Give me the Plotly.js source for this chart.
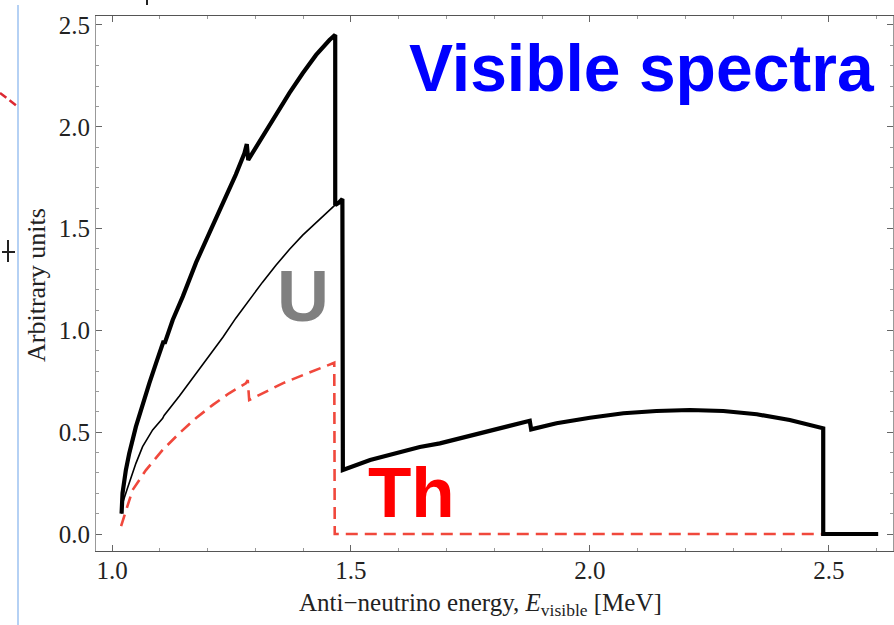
<!DOCTYPE html>
<html>
<head>
<meta charset="utf-8">
<script src="https://cdn.plot.ly/plotly-3.0.1.min.js"></script>
<style>html,body{margin:0;padding:0;background:#fff;}#chart{width:894px;height:625px;}</style>
</head>
<body>
<div id="chart"></div>
<script>
// Total visible spectrum (U + Th), thick black
const totalX = [1.020, 1.022, 1.029, 1.036, 1.050, 1.064, 1.078, 1.092, 1.106, 1.108, 1.110, 1.127, 1.148, 1.169, 1.176, 1.204, 1.232, 1.259, 1.277, 1.282, 1.285, 1.315, 1.343, 1.371, 1.399, 1.427, 1.455, 1.467, 1.467, 1.475, 1.482, 1.483, 1.540, 1.644, 1.686, 1.756, 1.826, 1.874, 1.877, 1.930, 2.000, 2.070, 2.139, 2.209, 2.279, 2.349, 2.418, 2.488, 2.488, 2.603];
const totalY = [0.10, 0.20, 0.314, 0.396, 0.527, 0.642, 0.740, 0.838, 0.928, 0.948, 0.935, 1.051, 1.166, 1.297, 1.334, 1.480, 1.624, 1.765, 1.870, 1.915, 1.837, 1.951, 2.066, 2.165, 2.263, 2.353, 2.426, 2.451, 1.616, 1.628, 1.645, 0.314, 0.363, 0.427, 0.445, 0.486, 0.527, 0.556, 0.514, 0.544, 0.571, 0.593, 0.604, 0.609, 0.604, 0.588, 0.560, 0.519, 0.0, 0.0];

// U component, thin black
const uX = [1.020, 1.022, 1.033, 1.050, 1.064, 1.085, 1.106, 1.109, 1.141, 1.169, 1.197, 1.232, 1.259, 1.287, 1.315, 1.343, 1.371, 1.399, 1.427, 1.455, 1.467];
const uY = [0.10, 0.151, 0.23, 0.347, 0.429, 0.511, 0.568, 0.582, 0.678, 0.768, 0.858, 0.966, 1.060, 1.150, 1.237, 1.320, 1.397, 1.468, 1.530, 1.588, 1.616];

// Th component, red dashed
const thX = [1.019, 1.029, 1.043, 1.071, 1.106, 1.141, 1.176, 1.211, 1.245, 1.280, 1.284, 1.287, 1.322, 1.357, 1.413, 1.465, 1.466, 2.488];
const thY = [0.039, 0.118, 0.216, 0.314, 0.413, 0.495, 0.570, 0.634, 0.691, 0.740, 0.756, 0.658, 0.699, 0.740, 0.793, 0.841, 0.0, 0.0];

const xTickVals = [1.0, 1.5, 2.0, 2.5];
const xTickText = ['1.0', '1.5', '2.0', '2.5'];
const yTickVals = [0.0, 0.5, 1.0, 1.5, 2.0, 2.5];
const yTickText = ['0.0', '0.5', '1.0', '1.5', '2.0', '2.5'];

const xTitle = 'Anti\u2212neutrino energy, <i>E</i><sub>visible</sub> [MeV]';
const yTitle = 'Arbitrary units';

const serif = 'Liberation Serif, Times New Roman, serif';
const sans = 'Liberation Sans, Arial, sans-serif';

const traces = [
  {x: thX, y: thY, type: 'scatter', mode: 'lines', line: {color: 'rgb(240,72,60)', width: 2.6, dash: '12px,7px'}, hoverinfo: 'skip'},
  {x: uX, y: uY, type: 'scatter', mode: 'lines', line: {color: '#000', width: 1.6}, hoverinfo: 'skip'},
  {x: totalX, y: totalY, type: 'scatter', mode: 'lines', line: {color: '#000', width: 4.2}, hoverinfo: 'skip'}
];

const W = 894, H = 625, L = 96, R = 893, T = 16, B = 551;
function px(x){ return (x - L) / (R - L); }
function py(y){ return (B - y) / (B - T); }

const layout = {
  width: W, height: H,
  margin: {l: L, r: W - R, t: T, b: H - B},
  paper_bgcolor: '#fff', plot_bgcolor: '#fff',
  showlegend: false,
  xaxis: {
    range: [0.9665, 2.634],
    tickmode: 'array', tickvals: xTickVals, ticktext: xTickText,
    ticks: 'inside', ticklen: 6, tickwidth: 1, tickcolor: '#666',
    minor: {tickmode: 'linear', tick0: 1.0, dtick: 0.1, ticks: 'inside', ticklen: 3, tickcolor: '#999'},
    showline: true, linecolor: '#555', linewidth: 1, mirror: 'allticks',
    showgrid: false, zeroline: false,
    ticklabelstandoff: -3,
    tickfont: {family: serif, size: 25, color: '#222'}
  },
  yaxis: {
    range: [-0.0835, 2.544],
    tickmode: 'array', tickvals: yTickVals, ticktext: yTickText,
    ticks: 'inside', ticklen: 6, tickwidth: 1, tickcolor: '#666',
    minor: {tickmode: 'linear', tick0: 0, dtick: 0.1, ticks: 'inside', ticklen: 3, tickcolor: '#999'},
    showline: true, linecolor: '#999', linewidth: 1, mirror: 'allticks',
    showgrid: false, zeroline: false,
    ticklabelstandoff: 0,
    tickfont: {family: serif, size: 25, color: '#222'}
  },
  annotations: [
    {xref: 'paper', yref: 'paper', x: px(480), y: py(604), xanchor: 'center', yanchor: 'middle', showarrow: false,
     text: xTitle, font: {family: serif, size: 25, color: '#222'}},
    {xref: 'paper', yref: 'paper', x: px(36), y: py(285), xanchor: 'center', yanchor: 'middle', showarrow: false, textangle: -90,
     text: yTitle, font: {family: serif, size: 26, color: '#222'}},
    {xref: 'paper', yref: 'paper', x: px(407), y: py(68), xanchor: 'left', yanchor: 'middle', showarrow: false,
     text: '<b>Visible spectra</b>', font: {family: sans, size: 66, color: '#0000ff'}},
    {xref: 'paper', yref: 'paper', x: px(303), y: py(296), xanchor: 'center', yanchor: 'middle', showarrow: false,
     text: '<b>U</b>', font: {family: sans, size: 72, color: '#808080'}},
    {xref: 'paper', yref: 'paper', x: px(411), y: py(492), xanchor: 'center', yanchor: 'middle', showarrow: false,
     text: '<b>Th</b>', font: {family: sans, size: 71, color: '#ff0000'}}
  ],
  shapes: [
    {type: 'line', xref: 'paper', yref: 'paper', x0: px(18), x1: px(18), y0: py(5), y1: py(625), line: {color: '#9cc2f0', width: 1.5}},
    {type: 'line', xref: 'paper', yref: 'paper', x0: px(0), x1: px(17), y0: py(93), y1: py(106), line: {color: 'rgb(220,40,50)', width: 2.5, dash: '8px,4px'}},
    {type: 'line', xref: 'paper', yref: 'paper', x0: px(8), x1: px(8), y0: py(240), y1: py(262), line: {color: '#222', width: 2}},
    {type: 'line', xref: 'paper', yref: 'paper', x0: px(2), x1: px(15), y0: py(252), y1: py(252), line: {color: '#222', width: 2}},
    {type: 'line', xref: 'paper', yref: 'paper', x0: px(147), x1: px(147), y0: py(0), y1: py(5), line: {color: '#222', width: 2}}
  ]
};

Plotly.newPlot('chart', traces, layout, {staticPlot: true, displayModeBar: false});
</script>
</body>
</html>
